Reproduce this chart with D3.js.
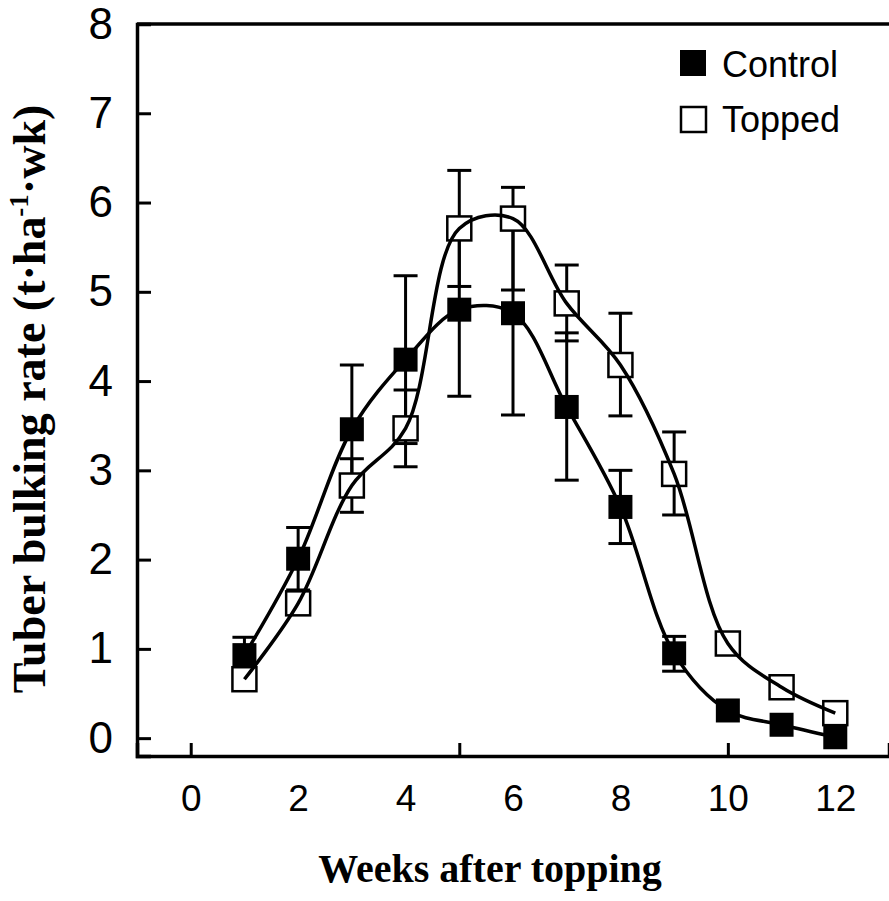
<!DOCTYPE html>
<html>
<head>
<meta charset="utf-8">
<script src="https://cdn.jsdelivr.net/npm/d3@7"></script>
<style>
  body { margin: 0; background: #fff; }
  svg { display: block; }
  .tick text { font-family: "Liberation Sans", Arial, sans-serif; fill: #000; }
  .title { font-family: "Liberation Serif", "Times New Roman", serif; font-weight: bold; fill: #000; }
  .legend { font-family: "Liberation Sans", Arial, sans-serif; font-size: 36px; fill: #000; }
</style>
</head>
<body>
<svg width="889" height="901"></svg>
<script>
// weeks after topping
var weeks = [1, 2, 3, 4, 5, 6, 7, 8, 9, 10, 11, 12];

// Control (filled squares)
var control   = [0.93, 2.01, 3.46, 4.24, 4.80, 4.76, 3.71, 2.59, 0.95, 0.31, 0.15, 0.01];
var controlHi = [0.20, 0.35, 0.72, 0.94, 0.97, 1.14, 0.83, 0.41, 0.19, 0, 0, 0];
var controlLo = [0.20, 0.35, 0.72, 0.94, 0.97, 1.14, 0.82, 0.41, 0.20, 0, 0, 0];

// Topped (open squares)
var topped   = [0.66, 1.51, 2.83, 3.47, 5.71, 5.82, 4.87, 4.18, 2.96, 1.06, 0.57, 0.28];
var toppedHi = [0.05, 0.10, 0.30, 0.43, 0.65, 0.35, 0.43, 0.58, 0.47, 0, 0, 0];
var toppedLo = [0.05, 0.10, 0.30, 0.43, 0.65, 0.80, 0.42, 0.57, 0.46, 0, 0, 0];

var xLabels = [0, 2, 4, 6, 8, 10, 12];
var xMinor = [0, 1, 2, 3, 4, 5, 6, 7, 8, 9, 10, 11, 12];
var xMajor = [0, 5, 10];
var yLabels = [0, 1, 2, 3, 4, 5, 6, 7, 8];
var yMinor = [0.5, 1.5, 2.5, 3.5, 4.5, 5.5, 6.5, 7.5];

var svg = d3.select("svg");

var x = d3.scaleLinear().domain([-1, 13]).range([137, 889]);
var y = d3.scaleLinear().domain([-0.2, 8]).range([756, 24]);

var sq = 24;

// axes
var gx = svg.append("g").attr("transform", "translate(0," + y(-0.2) + ")");
gx.call(d3.axisBottom(x).tickValues(xMinor).tickSize(-6).tickFormat(""));
gx.call(d3.axisBottom(x).tickValues(xMajor).tickSize(-13).tickFormat(""));
var gxl = svg.append("g").attr("transform", "translate(0," + y(-0.2) + ")")
  .call(d3.axisBottom(x).tickValues(xLabels).tickSize(0).tickPadding(29));
gxl.selectAll("text").style("font-size", "37px");
gxl.select(".domain").remove();

var gy = svg.append("g").attr("transform", "translate(" + x(-1) + ",0)");
gy.call(d3.axisLeft(y).tickValues(yMinor).tickSize(-6).tickFormat(""));
gy.call(d3.axisLeft(y).tickValues(yLabels).tickSize(-14).tickPadding(24));
gy.selectAll("text").style("font-size", "44px");

svg.selectAll(".domain").attr("stroke-width", 3.5);
svg.selectAll(".tick line").attr("stroke-width", 3);

// top frame line
svg.append("line")
  .attr("x1", x(-1)).attr("x2", x(13))
  .attr("y1", y(8)).attr("y2", y(8))
  .attr("stroke", "#000").attr("stroke-width", 3.5);

// error bars
function errorBars(vals, hi, lo) {
  var g = svg.append("g").attr("stroke", "#000").attr("stroke-width", 3);
  weeks.forEach(function (w, i) {
    if (hi[i] === 0 && lo[i] === 0) return;
    var top = y(vals[i] + hi[i]), bot = y(vals[i] - lo[i]);
    g.append("line").attr("x1", x(w)).attr("x2", x(w)).attr("y1", top).attr("y2", bot);
    g.append("line").attr("x1", x(w) - 12).attr("x2", x(w) + 12).attr("y1", top).attr("y2", top);
    g.append("line").attr("x1", x(w) - 12).attr("x2", x(w) + 12).attr("y1", bot).attr("y2", bot);
  });
}
errorBars(control, controlHi, controlLo);
errorBars(topped, toppedHi, toppedLo);

// markers
svg.append("g").selectAll("rect")
  .data(weeks)
  .join("rect")
  .attr("x", function (d) { return x(d) - sq / 2; })
  .attr("y", function (d, i) { return y(topped[i]) - sq / 2; })
  .attr("width", sq).attr("height", sq)
  .attr("fill", "#fff").attr("stroke", "#000").attr("stroke-width", 2.5);

svg.append("g").selectAll("rect")
  .data(weeks)
  .join("rect")
  .attr("x", function (d) { return x(d) - sq / 2; })
  .attr("y", function (d, i) { return y(control[i]) - sq / 2; })
  .attr("width", sq).attr("height", sq)
  .attr("fill", "#000");

// smooth curves
var line = d3.line()
  .x(function (d) { return x(d[0]); })
  .y(function (d) { return y(d[1]); })
  .curve(d3.curveCatmullRom.alpha(0.5));

[control, topped].forEach(function (s) {
  svg.append("path")
    .datum(weeks.map(function (w, i) { return [w, s[i]]; }))
    .attr("fill", "none").attr("stroke", "#000").attr("stroke-width", 3.5)
    .attr("d", line);
});

// legend
svg.append("rect").attr("x", 680).attr("y", 50).attr("width", 26).attr("height", 26).attr("fill", "#000");
svg.append("text").attr("class", "legend").attr("x", 722).attr("y", 77).text("Control");
svg.append("rect").attr("x", 681).attr("y", 107).attr("width", 25).attr("height", 25)
  .attr("fill", "#fff").attr("stroke", "#000").attr("stroke-width", 2.5);
svg.append("text").attr("class", "legend").attr("x", 722).attr("y", 132).text("Topped");

// axis titles
svg.append("text").attr("class", "title")
  .attr("x", 490).attr("y", 882)
  .attr("text-anchor", "middle")
  .style("font-size", "40px")
  .text("Weeks after topping");

var yt = svg.append("text").attr("class", "title")
  .attr("transform", "translate(45,399) rotate(-90)")
  .attr("text-anchor", "middle")
  .style("font-size", "46px");
yt.append("tspan").text("Tuber bulking rate (t\u00b7ha");
yt.append("tspan").attr("dy", -17).style("font-size", "27px").text("-1");
yt.append("tspan").attr("dy", 17).text("\u00b7wk)");
</script>
</body>
</html>
